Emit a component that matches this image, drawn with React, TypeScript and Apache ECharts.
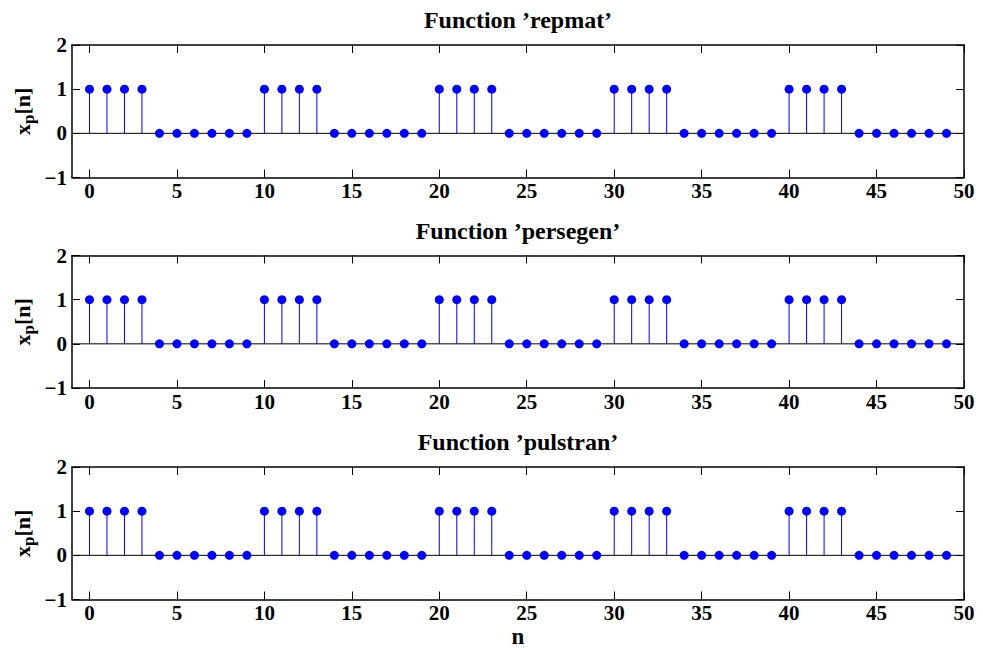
import React, { useEffect, useRef } from "react";
import * as echarts from "echarts";

const titles = ["Function \u2019repmat\u2019", "Function \u2019persegen\u2019", "Function \u2019pulstran\u2019"];
const n = [0,1,2,3,4,5,6,7,8,9,10,11,12,13,14,15,16,17,18,19,20,21,22,23,24,25,26,27,28,29,30,31,32,33,34,35,36,37,38,39,40,41,42,43,44,45,46,47,48,49];
const xRepmat = [1,1,1,1,0,0,0,0,0,0,1,1,1,1,0,0,0,0,0,0,1,1,1,1,0,0,0,0,0,0,1,1,1,1,0,0,0,0,0,0,1,1,1,1,0,0,0,0,0,0];
const xPersegen = [1,1,1,1,0,0,0,0,0,0,1,1,1,1,0,0,0,0,0,0,1,1,1,1,0,0,0,0,0,0,1,1,1,1,0,0,0,0,0,0,1,1,1,1,0,0,0,0,0,0];
const xPulstran = [1,1,1,1,0,0,0,0,0,0,1,1,1,1,0,0,0,0,0,0,1,1,1,1,0,0,0,0,0,0,1,1,1,1,0,0,0,0,0,0,1,1,1,1,0,0,0,0,0,0];
const seriesValues = [xRepmat, xPersegen, xPulstran];
const xTicks = [0, 5, 10, 15, 20, 25, 30, 35, 40, 45, 50];
const yTicks = [-1, 0, 1, 2];
const xLabel = "n";

export default function App() {
  const ref = useRef<HTMLDivElement>(null);
  useEffect(() => {
    const chart = echarts.init(ref.current!, null, { renderer: "svg" });
    const font = "'Liberation Serif', 'Times New Roman', serif";
    const tops = [45, 255.5, 467];
    const gridH = 132.5;
    const grids = tops.map((t) => ({
      left: 72, width: 892, top: t, height: gridH, show: false,
      containLabel: false, outerBoundsMode: "none",
    }));
    const xAxis: any[] = [];
    const yAxis: any[] = [];
    const series: any[] = [];
    const graphic: any[] = [];
    const axisLine = { show: true, onZero: false, lineStyle: { color: "#000", width: 1.5 } };
    const tick = { show: true, inside: true, length: 8, lineStyle: { color: "#000", width: 1 } };
    tops.forEach((t, i) => {
      const base = { type: "value", min: -1, max: 50, gridIndex: i, splitLine: { show: false } };
      xAxis.push({
        ...base, position: "bottom",
        axisLine, axisTick: { ...tick, customValues: xTicks },
        axisLabel: {
          color: "#000", fontFamily: font, fontWeight: "bold", fontSize: 21, margin: 3,
          customValues: xTicks, formatter: (v: number) => String(v),
        },
      });
      xAxis.push({
        ...base, position: "top",
        axisLine, axisTick: { ...tick, customValues: xTicks },
        axisLabel: { show: false },
      });
      const ybase = { type: "value", min: -1, max: 2, interval: 1, gridIndex: i, splitLine: { show: false } };
      yAxis.push({
        ...ybase, position: "left",
        axisLine, axisTick: { ...tick, customValues: yTicks },
        axisLabel: {
          color: "#000", fontFamily: font, fontWeight: "bold", fontSize: 21, margin: 5,
          customValues: yTicks,
          formatter: (v: number) => (v < 0 ? "\u2212" + Math.abs(v) : String(v)),
        },
      });
      yAxis.push({
        ...ybase, position: "right",
        axisLine, axisTick: { ...tick, customValues: yTicks },
        axisLabel: { show: false },
      });
      series.push({
        type: "line", xAxisIndex: 2 * i, yAxisIndex: 2 * i, data: [[-1, 0], [50, 0]],
        symbol: "none", lineStyle: { color: "#000", width: 1 }, z: 1, silent: true,
      });
      const vals = seriesValues[i];
      series.push({
        type: "custom", xAxisIndex: 2 * i, yAxisIndex: 2 * i, z: 3,
        data: n.map((x, k) => [x, vals[k]]),
        renderItem: (params: any, api: any) => {
          const x = api.value(0);
          const y = api.value(1);
          const p = api.coord([x, y]);
          const p0 = api.coord([x, 0]);
          return {
            type: "group",
            children: [
              { type: "line", shape: { x1: p0[0], y1: p0[1], x2: p[0], y2: p[1] }, style: { stroke: "#0000ff", lineWidth: 1 } },
              { type: "circle", shape: { cx: p[0], cy: p[1], r: 4.5 }, style: { fill: "#0000ff", stroke: null } },
            ],
          };
        },
      });
      // y-axis label x_p[n], rotated
      const cy = t + gridH / 2;
      const mainFs = 22;
      const subFs = 17;
      const wx = 0.5 * mainFs;
      const wp = 0.556 * subFs;
      const wn = 1.222 * mainFs;
      const start = -(wx + wp + wn) / 2;
      const ts = (fs: number) => ({ fill: "#000", font: `bold ${fs}px ${font}`, verticalAlign: "middle", align: "left" });
      graphic.push({
        type: "group", x: 22, y: cy, rotation: Math.PI / 2, silent: true,
        children: [
          { type: "text", x: start, y: 0, style: { ...ts(mainFs), text: "x" } },
          { type: "text", x: start + wx, y: 6, style: { ...ts(subFs), text: "p" } },
          { type: "text", x: start + wx + wp, y: 0, style: { ...ts(mainFs), text: "[n]" } },
        ],
      });
    });
    graphic.push({
      type: "text", x: 518, y: 636, silent: true,
      style: { text: xLabel, fill: "#000", font: `bold 23px ${font}`, align: "center", verticalAlign: "middle" },
    });
    const title = titles.map((tx, i) => ({
      text: tx, left: 518, top: tops[i] - 37, textAlign: "center", padding: 0,
      textStyle: { color: "#000", fontFamily: font, fontWeight: "bold", fontSize: 24 },
    }));
    chart.setOption({
      animation: false,
      backgroundColor: "#fff",
      title,
      grid: grids,
      xAxis,
      yAxis,
      series,
      graphic,
    });
    return () => chart.dispose();
  }, []);
  return <div ref={ref} style={{ position: "fixed", left: 0, top: 0, width: 983, height: 648 }} />;
}
